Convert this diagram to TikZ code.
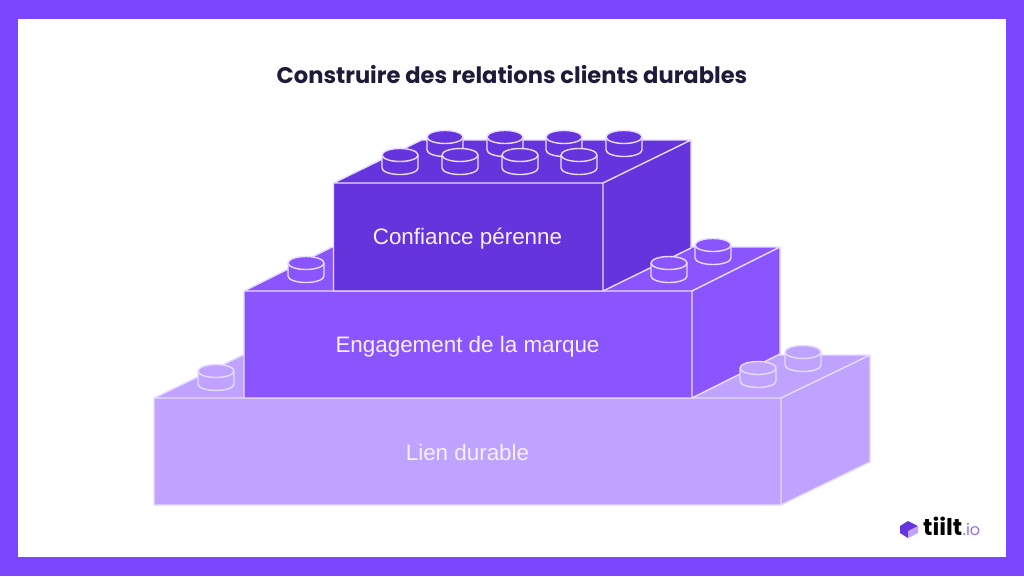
\documentclass[tikz,border=0pt]{standalone}
\usepackage{fontspec}
\setmainfont{Liberation Sans}
\newfontfamily\titlefont{Poppins}
\definecolor{framecol}{HTML}{7C45FF}
\definecolor{darkcol}{HTML}{6534DC}
\definecolor{midcol}{HTML}{8A55FF}
\definecolor{lightcol}{HTML}{BFA3FF}
\definecolor{edgecol}{HTML}{E8DCFF}
\definecolor{namecol}{HTML}{F6F0FF}
\definecolor{inkcol}{HTML}{1E1B3A}

\newcommand{\brick}[7]{%
  % left, right, top, bottom of the front face, then depth, height of the top, fill
  \fill[#7] (#1,#3) -- ++(#5,-#6) -- ++(#2-#1,0) -- ++(0,#4-#3) -- (#2,#4) -- (#1,#4) -- cycle;
  \draw[edge] (#1,#3) rectangle (#2,#4)
        (#1,#3) -- ++(#5,-#6) -- ++(#2-#1,0) -- (#2,#3)
        (#2+#5,#3-#6) -- ++(0,#4-#3) -- (#2,#4);
}
\newcommand{\stud}[3]{%
  \filldraw[edge,fill=#3] (#1-18,#2) -- (#1-18,#2+13) arc[start angle=180,end angle=0,x radius=18,y radius=6.5]
        -- (#1+18,#2) arc[start angle=0,end angle=-180,x radius=18,y radius=6.5] -- cycle;
  \draw[edge] (#1-18,#2) arc[start angle=180,end angle=0,x radius=18,y radius=6.5];
}

\begin{document}
\begin{tikzpicture}[x=1pt,y=-1pt]
    \tikzstyle{edge}=[draw=edgecol, line width=1.4pt, line join=round];
    \tikzstyle{brickname}=[text=namecol, font=\fontsize{22.4}{26}\selectfont];

    \fill[framecol] (0,0) rectangle (1024,576);
    \fill[white] (18,19) rectangle (1006,557);

    \node[font=\titlefont\bfseries\fontsize{22.6}{26}\selectfont, text=inkcol] at (512,75) (title) {Construire des relations clients durables};

    % the three bricks, from the bottom up
    \brick{154}{781}{398}{505}{89}{43}{lightcol}
    \brick{244}{692}{291}{398}{88}{44}{midcol}
    \brick{333.5}{603}{183}{291}{88}{43}{darkcol}

    % studs lie over the brick above them
    \stud{216}{371}{lightcol}
    \stud{803}{352}{lightcol}
    \stud{758}{368}{lightcol}
    \stud{306}{263}{midcol}
    \stud{713}{245}{midcol}
    \stud{669}{263}{midcol}
    \foreach \x in {445,505,564,624} {\stud{\x}{137}{darkcol}}
    \foreach \x in {400,460,520,579} {\stud{\x}{155}{darkcol}}

    \node[brickname] at (467.5,452) (lien) {Lien durable};
    \node[brickname] at (467.5,347) (engagement) {Engagement de la marque};
    \node[brickname] at (467.5,239) (confiance) {Confiance pérenne};

    % logo
    \fill[darkcol] (900,526) -- (908,521) -- (918,526) -- (909,531) -- (908,538) -- (900,533) -- cycle;
    \fill[lightcol] (908,531) -- (918,526) -- (918,533) -- (908,538) -- cycle;
    \node[font=\titlefont\bfseries\fontsize{23}{26}\selectfont, text=black, anchor=base west, inner sep=0] at (923,535) (tiilt) {tiilt};
    \node[font=\titlefont\fontsize{16}{18}\selectfont, text=darkcol!70, anchor=base west, inner sep=0] at (tiilt.base east) (io) {.io};
\end{tikzpicture}
\end{document}
